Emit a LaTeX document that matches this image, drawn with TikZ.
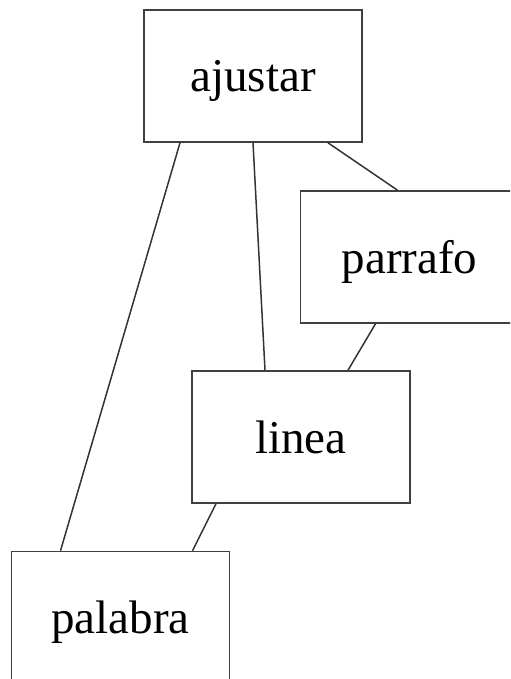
\documentclass[tikz,border=0pt]{standalone}
\usepackage{fontspec}
\setmainfont{Liberation Serif}

\tikzset{
		graph/.style={
			x=0.5pt, y=-0.5pt,
			every node/.style={rectangle,draw=black!75,line width=0.8pt,
				minimum width=109pt,minimum height=66pt,inner sep=0pt,
				text height=21pt,text depth=5pt}
		},
		arista/.style={draw=black!80,line width=0.75pt},
		fontbig/.style={font=\fontsize{23.5}{28}\selectfont}
	}

\begin{document}
\begin{tikzpicture}[graph, fontbig]
				\useasboundingbox (0,0) rectangle (510,679);
				\clip (0,0) rectangle (510,679);
				\node (ajustar) at (253,76) {ajustar};
				\node (parrafo) at (409.5,257) {parrafo};
				\node (linea) at (301,437) {linea};
				\node (palabra) at (120.5,617.5) {palabra};
				% aristas
				\draw[arista] ([xshift=-36.5pt]ajustar.south) -- ([xshift=-30pt]palabra.north);
				\draw[arista] ([xshift=0pt]ajustar.south) -- ([xshift=-18pt]linea.north);
				\draw[arista] ([xshift=37.5pt]ajustar.south) -- ([xshift=-6pt]parrafo.north);
				\draw[arista] ([xshift=-17pt]parrafo.south) -- ([xshift=23.5pt]linea.north);
				\draw[arista] ([xshift=-42.5pt]linea.south) -- ([xshift=36pt]palabra.north);
			\end{tikzpicture}
\end{document}
